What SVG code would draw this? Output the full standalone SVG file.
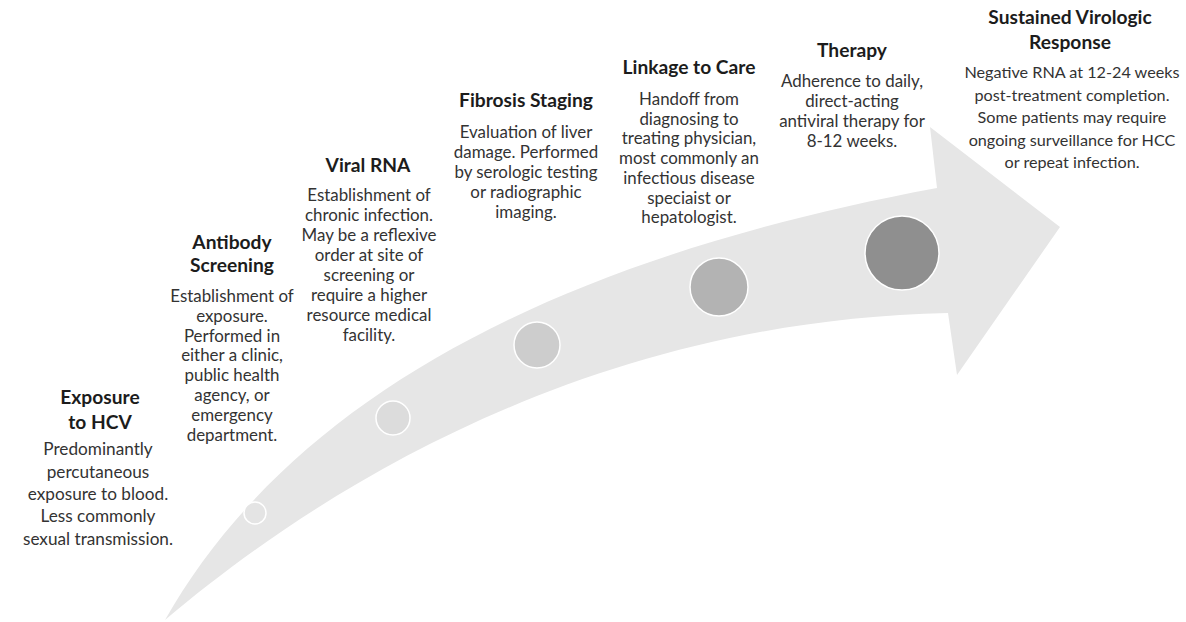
<svg xmlns="http://www.w3.org/2000/svg" width="1186" height="622" viewBox="0 0 1186 622">
<style>
text{font-family:Lato,"Liberation Sans",sans-serif;text-anchor:middle}
.t{font-weight:bold;font-size:19.2px;fill:#1c1c1c}
.b{font-size:16.9px;fill:#333}
.b16{font-size:16.2px;fill:#333}
.b17{font-size:17.2px;fill:#333}
.dot{stroke:#fff;stroke-width:1.5}
</style>
<rect width="1186" height="622" fill="#fff"/>
<g id="arrow">
<path d="M165,620 C290,400 550,260 937,188 L930,127 L1060,227 L957,375 L948,313 C600,320 330,480 165,620 Z" fill="#e6e6e6"/>
</g>
<g id="connectors"></g>
<g id="exposure">
<circle class="dot" cx="255" cy="513" r="11" fill="#e4e4e4"/>
<text class="t" x="100" y="404">Exposure</text>
<text class="t" x="100" y="429">to HCV</text>
<text class="b17" x="98" y="455">Predominantly</text>
<text class="b17" x="98" y="477.5">percutaneous</text>
<text class="b17" x="98" y="500">exposure to blood.</text>
<text class="b17" x="98" y="522">Less commonly</text>
<text class="b17" x="98" y="544.5">sexual transmission.</text>
</g>
<g id="antibody">
<circle class="dot" cx="393" cy="418" r="17" fill="#dcdcdc"/>
<text class="t" x="232" y="249">Antibody</text>
<text class="t" x="232" y="272">Screening</text>
<text class="b" x="232" y="302">Establishment of</text>
<text class="b" x="232" y="321.8">exposure.</text>
<text class="b" x="232" y="341.6">Performed in</text>
<text class="b" x="232" y="361.4">either a clinic,</text>
<text class="b" x="232" y="381.2">public health</text>
<text class="b" x="232" y="401">agency, or</text>
<text class="b" x="232" y="420.8">emergency</text>
<text class="b" x="232" y="440.6">department.</text>
</g>
<g id="viral-rna">
<circle class="dot" cx="537" cy="345" r="23" fill="#cdcdcd"/>
<text class="t" x="368" y="172">Viral RNA</text>
<text class="b" x="369" y="201">Establishment of</text>
<text class="b" x="369" y="221">chronic infection.</text>
<text class="b" x="369" y="241">May be a reflexive</text>
<text class="b" x="369" y="261">order at site of</text>
<text class="b" x="369" y="281">screening or</text>
<text class="b" x="369" y="301">require a higher</text>
<text class="b" x="369" y="321">resource medical</text>
<text class="b" x="369" y="341">facility.</text>
</g>
<g id="fibrosis">
<circle class="dot" cx="719" cy="287" r="29" fill="#b3b3b3"/>
<text class="t" x="526" y="107">Fibrosis Staging</text>
<text class="b" x="526" y="138">Evaluation of liver</text>
<text class="b" x="526" y="158">damage. Performed</text>
<text class="b" x="526" y="178">by serologic testing</text>
<text class="b" x="526" y="198">or radiographic</text>
<text class="b" x="526" y="218">imaging.</text>
</g>
<g id="linkage">
<circle class="dot" cx="902" cy="253" r="37" fill="#8f8f8f"/>
<text class="t" x="689" y="74">Linkage to Care</text>
<text class="b" x="689" y="105">Handoff from</text>
<text class="b" x="689" y="124.7">diagnosing to</text>
<text class="b" x="689" y="144.4">treating physician,</text>
<text class="b" x="689" y="164.1">most commonly an</text>
<text class="b" x="689" y="183.8">infectious disease</text>
<text class="b" x="689" y="203.5">speciaist or</text>
<text class="b" x="689" y="223.2">hepatologist.</text>
</g>
<g id="therapy">
<text class="t" x="852" y="57">Therapy</text>
<text class="b" x="852" y="87">Adherence to daily,</text>
<text class="b" x="852" y="107">direct-acting</text>
<text class="b" x="852" y="127">antiviral therapy for</text>
<text class="b" x="852" y="147">8-12 weeks.</text>
</g>
<g id="svr">
<text class="t" x="1070" y="24">Sustained Virologic</text>
<text class="t" x="1070" y="49">Response</text>
<text class="b16" x="1072" y="78">Negative RNA at 12-24 weeks</text>
<text class="b16" x="1072" y="100.5">post-treatment completion.</text>
<text class="b16" x="1072" y="123">Some patients may require</text>
<text class="b16" x="1072" y="145.5">ongoing surveillance for HCC</text>
<text class="b16" x="1072" y="168">or repeat infection.</text>
</g>
</svg>
